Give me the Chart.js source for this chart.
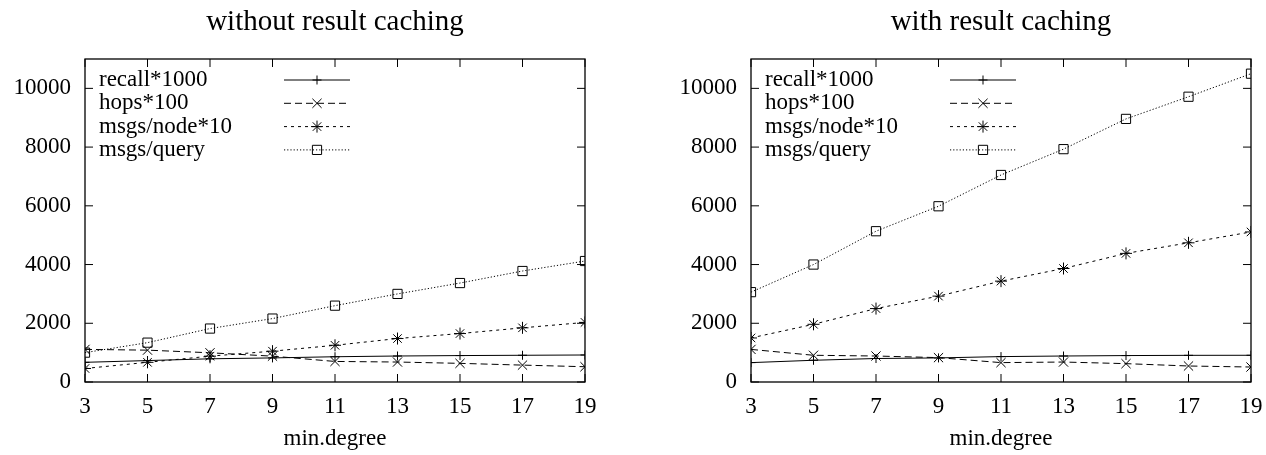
<!DOCTYPE html>
<html>
<head>
<meta charset="utf-8">
<script src="https://cdn.jsdelivr.net/npm/chart.js@4.4.0/dist/chart.umd.min.js"></script>
<style>
  html, body { margin: 0; padding: 0; background: #fff; }
  #wrap { position: relative; width: 1266px; height: 455px; }
  canvas { position: absolute; top: 0; }
</style>
</head>
<body>
<div id="wrap">
  <canvas id="noCacheChart" width="633" height="455" style="left:0"></canvas>
  <canvas id="cacheChart" width="633" height="455" style="left:633px"></canvas>
</div>
<script>
// data
const minDegree = [3, 5, 7, 9, 11, 13, 15, 17, 19];
const yTicks = [0, 2000, 4000, 6000, 8000, 10000];
const seriesNames = ["recall*1000", "hops*100", "msgs/node*10", "msgs/query"];

const recallNoCache = [670, 730, 790, 820, 860, 885, 900, 910, 920];
const hopsNoCache = [1110, 1085, 995, 880, 700, 680, 635, 575, 520];
const msgsNodeNoCache = [460, 670, 880, 1050, 1250, 1480, 1650, 1845, 2030];
const msgsQueryNoCache = [1000, 1340, 1820, 2160, 2600, 3000, 3370, 3780, 4120];

const recallCache = [660, 740, 800, 820, 865, 885, 900, 908, 910];
const hopsCache = [1110, 910, 885, 830, 660, 680, 625, 545, 510];
const msgsNodeCache = [1500, 1965, 2500, 2925, 3435, 3865, 4380, 4740, 5110];
const msgsQueryCache = [3060, 4000, 5135, 5985, 7050, 7930, 8960, 9715, 10500];

const serif = "'Liberation Serif', 'Times New Roman', serif";

const lineStyles = [
  { borderDash: [], pointStyle: "cross", pointRadius: 4.5 },
  { borderDash: [7, 4], pointStyle: "crossRot", pointRadius: 6.5 },
  { borderDash: [3, 4], pointStyle: "star", pointRadius: 6 },
  { borderDash: [1.2, 2], pointStyle: "rect", pointRadius: 6.5 },
];

// gnuplot-like frame, inward ticks and key
const frameAndKey = {
  id: "frameAndKey",
  afterDatasetsDraw(chart) {
    const { ctx, chartArea: a, scales } = chart;
    const tl = 8;
    ctx.save();
    ctx.strokeStyle = "#000";
    ctx.setLineDash([]);
    ctx.lineWidth = 1.3;
    ctx.strokeRect(a.left, a.top, a.right - a.left, a.bottom - a.top);

    ctx.lineWidth = 1;
    ctx.beginPath();
    scales.x.ticks.forEach((t) => {
      const px = scales.x.getPixelForValue(t.value);
      ctx.moveTo(px, a.bottom);
      ctx.lineTo(px, a.bottom - tl);
      ctx.moveTo(px, a.top);
      ctx.lineTo(px, a.top + tl);
    });
    scales.y.ticks.forEach((t) => {
      const py = scales.y.getPixelForValue(t.value);
      ctx.moveTo(a.left, py);
      ctx.lineTo(a.left + tl, py);
      ctx.moveTo(a.right, py);
      ctx.lineTo(a.right - tl, py);
    });
    ctx.stroke();

    ctx.font = `23px ${serif}`;
    ctx.textBaseline = "middle";
    ctx.textAlign = "left";
    chart.data.datasets.forEach((ds, i) => {
      const y = a.top + 21 + i * 23.3;
      ctx.fillStyle = "#000";
      ctx.fillText(ds.label, a.left + 14, y);
      ctx.setLineDash(ds.borderDash);
      ctx.lineWidth = 1;
      ctx.beginPath();
      ctx.moveTo(a.left + 199, y);
      ctx.lineTo(a.left + 265, y);
      ctx.stroke();
      ctx.setLineDash([]);
      ctx.fillStyle = "rgba(0,0,0,0)";
      Chart.helpers.drawPoint(ctx, { pointStyle: ds.pointStyle, radius: ds.pointRadius, rotation: 0, borderWidth: 1 }, a.left + 232, y);
    });
    ctx.restore();
  },
};

function makeChart(id, title, axisWidth, padRight, series) {
  return new Chart(document.getElementById(id), {
    type: "line",
    data: {
      datasets: series.map((vals, i) => ({
        label: seriesNames[i],
        data: minDegree.map((d, j) => ({ x: d, y: vals[j] })),
        borderColor: "#000",
        backgroundColor: "rgba(0,0,0,0)",
        borderWidth: 1,
        pointBorderWidth: 1,
        pointBackgroundColor: "rgba(0,0,0,0)",
        pointBorderColor: "#000",
        tension: 0,
        ...lineStyles[i],
      })),
    },
    options: {
      responsive: false,
      animation: false,
      layout: { padding: { left: 0, right: padRight, top: 0, bottom: 0 } },
      plugins: { legend: { display: false }, tooltip: { enabled: false } },
      scales: {
        x: {
          type: "linear",
          position: "bottom",
          min: 3,
          max: 19,
          afterBuildTicks: (s) => { s.ticks = minDegree.map((v) => ({ value: v })); },
          afterFit: (s) => { s.height = 73; },
          grid: { display: false, drawTicks: false },
          border: { display: false },
          // padding 0 so the last label does not push the plot inward; lineHeight sets the offset
          ticks: { autoSkip: false, maxRotation: 0, padding: 0, color: "#000", font: { family: serif, size: 23, lineHeight: 2.15 } },
          title: { display: true, text: "min.degree", color: "#000", font: { family: serif, size: 23 }, padding: { top: 0, bottom: 2 } },
        },
        top: {
          type: "linear",
          position: "top",
          afterFit: (s) => { s.height = 59; },
          grid: { display: false, drawTicks: false },
          border: { display: false },
          ticks: { display: false },
          title: { display: true, text: title, color: "#000", font: { family: serif, size: 29 }, padding: { top: 5, bottom: 0 } },
        },
        y: {
          type: "linear",
          position: "left",
          min: 0,
          max: 11000,
          afterBuildTicks: (s) => { s.ticks = yTicks.map((v) => ({ value: v })); },
          afterFit: (s) => { s.width = axisWidth; },
          grid: { display: false, drawTicks: false },
          border: { display: false },
          ticks: { padding: 14, color: "#000", font: { family: serif, size: 23 }, callback: (v) => String(v) },
        },
      },
    },
    plugins: [frameAndKey],
  });
}

makeChart("noCacheChart", "without result caching", 85, 48,
  [recallNoCache, hopsNoCache, msgsNodeNoCache, msgsQueryNoCache]);
makeChart("cacheChart", "with result caching", 118, 15,
  [recallCache, hopsCache, msgsNodeCache, msgsQueryCache]);
</script>
</body>
</html>
